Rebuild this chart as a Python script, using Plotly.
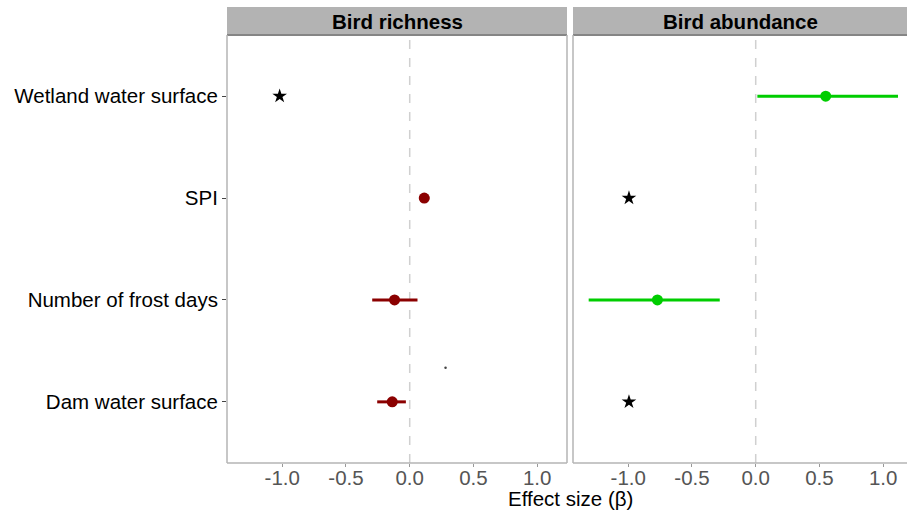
import plotly.graph_objects as go

# ---- data ----
categories = ["Dam water surface", "Number of frost days", "SPI", "Wetland water surface"]
cat_pos = [1, 2, 3, 4]

# Bird richness (left panel)
rich_cats = ["SPI", "Number of frost days", "Dam water surface"]
rich_est = [0.114, -0.119, -0.137]
rich_lo = [0.075, -0.294, -0.255]
rich_hi = [0.153, 0.061, -0.030]
rich_star_cats = ["Wetland water surface"]
rich_star_x = [-1.02]

# Bird abundance (right panel)
abun_cats = ["Wetland water surface", "Number of frost days"]
abun_est = [0.549, -0.771]
abun_lo = [0.013, -1.31]
abun_hi = [1.116, -0.282]
abun_star_cats = ["SPI", "Dam water surface"]
abun_star_x = [-0.994, -0.994]

stray_x = [0.281]
stray_y = [1.335]

panel_titles = ["Bird richness", "Bird abundance"]
x_ticks = [-1.0, -0.5, 0.0, 0.5, 1.0]
x_ticktext = ["-1.0", "-0.5", "0.0", "0.5", "1.0"]

RED = "#8B0000"
GREEN = "#00CD00"
FONT = "Liberation Sans, Arial, sans-serif"

pos = dict(zip(categories, cat_pos))

fig = go.Figure()

def ci_trace(cats, lo, hi, color, xa, ya):
    xs, ys = [], []
    for c, l, h in zip(cats, lo, hi):
        xs += [l, h, None]
        ys += [pos[c], pos[c], None]
    return go.Scatter(x=xs, y=ys, mode="lines", line=dict(color=color, width=3),
                      xaxis=xa, yaxis=ya, showlegend=False, hoverinfo="skip")

STAR = 11

# left panel
fig.add_trace(ci_trace(rich_cats, rich_lo, rich_hi, RED, "x", "y"))
fig.add_trace(go.Scatter(x=rich_est, y=[pos[c] for c in rich_cats], mode="markers",
                         marker=dict(color=RED, size=11), xaxis="x", yaxis="y", showlegend=False))
fig.add_trace(go.Scatter(x=rich_star_x, y=[pos[c] for c in rich_star_cats], mode="markers",
                         marker=dict(color="black", size=STAR, symbol="star"), xaxis="x", yaxis="y", showlegend=False))
fig.add_trace(go.Scatter(x=stray_x, y=stray_y, mode="markers",
                         marker=dict(color="#444444", size=2.5), xaxis="x", yaxis="y", showlegend=False))

# right panel
fig.add_trace(ci_trace(abun_cats, abun_lo, abun_hi, GREEN, "x2", "y2"))
fig.add_trace(go.Scatter(x=abun_est, y=[pos[c] for c in abun_cats], mode="markers",
                         marker=dict(color=GREEN, size=11), xaxis="x2", yaxis="y2", showlegend=False))
fig.add_trace(go.Scatter(x=abun_star_x, y=[pos[c] for c in abun_star_cats], mode="markers",
                         marker=dict(color="black", size=STAR, symbol="star"), xaxis="x2", yaxis="y2", showlegend=False))

W, H = 907, 511
ml, mr, mt, mb = 227, 0, 35, 48
pw = W - ml - mr
ph = H - mt - mb
left_dom = [0, 340 / pw]
right_dom = [346 / pw, 1]
scale = 127.5
xmin = -1.433
left_range = [xmin, xmin + 340 / scale]
right_range = [xmin, xmin + (pw - 346) / scale]

xcommon = dict(tickvals=x_ticks, ticktext=x_ticktext, showgrid=False, zeroline=False,
               ticks="outside", ticklen=3, tickcolor="#999999", tickwidth=1,
               ticklabelstandoff=-7,
               tickfont=dict(size=20.5, color="#555555", family=FONT), showline=False)
ycommon = dict(range=[0.4, 4.6], showgrid=False, zeroline=False, showline=False)

fig.update_layout(
    width=W, height=H,
    margin=dict(l=ml, r=mr, t=mt, b=mb),
    paper_bgcolor="white", plot_bgcolor="white",
    font=dict(family=FONT),
    xaxis=dict(domain=left_dom, range=left_range, anchor="y", **xcommon),
    xaxis2=dict(domain=right_dom, range=right_range, anchor="y2", **xcommon),
    yaxis=dict(anchor="x", tickvals=cat_pos, ticktext=categories, ticks="outside", ticklen=4,
               tickcolor="#444444", tickfont=dict(size=20.5, color="black", family=FONT), **ycommon),
    yaxis2=dict(anchor="x2", showticklabels=False, ticks="", **ycommon),
)

strip_top = 1 + 28 / ph
for i, (xr, yr) in enumerate([("x", "y"), ("x2", "y2")]):
    xd = xr + " domain"
    xe = 1 if i == 0 else 1.02
    # zero dashed line
    fig.add_shape(type="line", xref=xr, yref="paper", x0=0, x1=0, y0=0, y1=1,
                  line=dict(color="#D0D0D0", width=1.5, dash="dash"), layer="below")
    # strip
    fig.add_shape(type="rect", xref=xd, yref="paper", x0=0, x1=xe,
                  y0=1, y1=strip_top, fillcolor="#B3B3B3", line=dict(width=0))
    fig.add_shape(type="line", xref=xd, yref="paper", x0=0, x1=xe,
                  y0=1, y1=1, line=dict(color="#858585", width=2))
    # panel border
    fig.add_shape(type="line", xref=xd, yref="paper", x0=0, x1=0, y0=0, y1=1,
                  line=dict(color="#B5B5B5", width=1.5))
    fig.add_shape(type="line", xref=xd, yref="paper", x0=0, x1=xe, y0=0, y1=0,
                  line=dict(color="#B5B5B5", width=1.5))
    if i == 0:
        fig.add_shape(type="line", xref=xd, yref="paper", x0=1, x1=1, y0=0, y1=1,
                      line=dict(color="#B5B5B5", width=1.5))
    # strip title
    fig.add_annotation(xref=xd, yref="paper", x=0.5, y=(1 + strip_top) / 2,
                       text="<b>%s</b>" % panel_titles[i], showarrow=False,
                       font=dict(size=20.5, color="black", family=FONT),
                       xanchor="center", yanchor="middle")

fig.add_annotation(xref="paper", yref="paper", x=(570 - ml) / pw, y=-(498 - (H - mb)) / ph,
                   text="Effect size (β)", showarrow=False,
                   font=dict(size=20.5, color="black", family=FONT),
                   xanchor="center", yanchor="middle")

fig.write_html("out.html", config={"displayModeBar": False},
               post_script="document.body.style.margin='0';document.body.style.overflow='hidden';")
